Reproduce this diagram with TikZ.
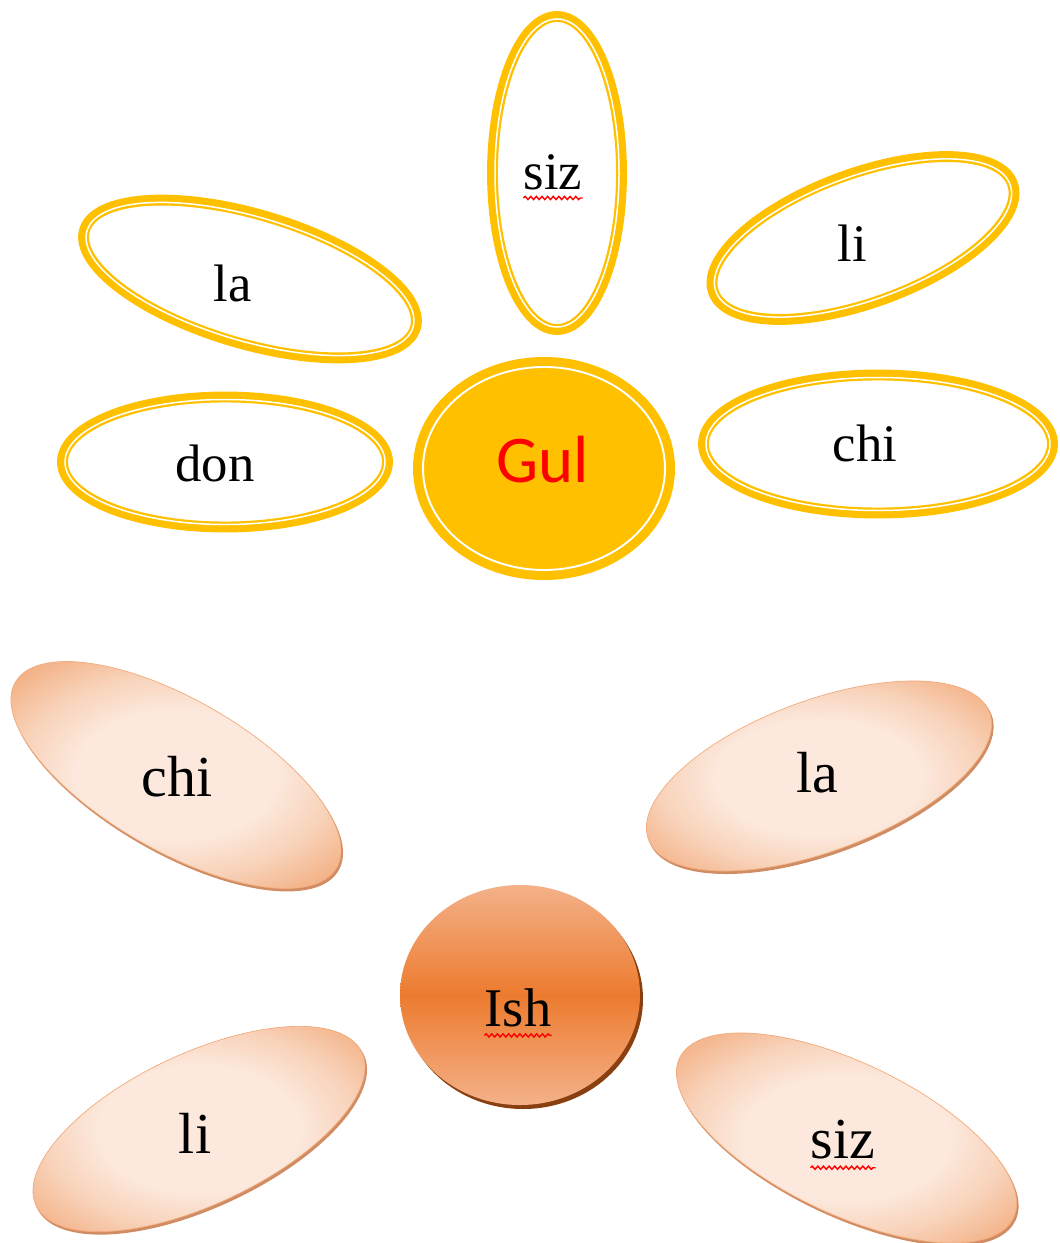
\documentclass[tikz,border=0pt]{standalone}
\usepackage{fontspec}
\setmainfont{Liberation Serif}
\newfontfamily\gulfont{Carlito}
\usetikzlibrary{decorations.pathmorphing}
\definecolor{gulyellow}{HTML}{FFC000}
\definecolor{peach}{HTML}{FCE8DC}
\definecolor{peachmid}{HTML}{F8D2B9}
\definecolor{peachdark}{HTML}{F2AB7C}
\definecolor{peachrim}{HTML}{D08C62}
\definecolor{ishorange}{HTML}{EC7B2F}
\definecolor{ishlight}{HTML}{F4B189}
\definecolor{ishrim}{HTML}{8A3F10}
\pgfdeclareradialshading{petalshade}{\pgfpoint{0bp}{0bp}}{color(0bp)=(peach); color(14bp)=(peach); color(22bp)=(peachmid); color(32bp)=(peachdark); color(50bp)=(peachdark)}
\begin{document}
\begin{tikzpicture}[x=0.02cm,y=-0.02cm,
  petal/.style={draw=gulyellow,line width=6.2pt},
  petalgap/.style={draw=white,line width=0.85pt},
  word/.style={inner sep=0pt,font=\fontsize{30}{36}\selectfont},
  bigword/.style={inner sep=0pt,font=\fontsize{33}{40}\selectfont},
  squiggle/.style={draw=red,line width=0.8pt,decorate,decoration={snake,amplitude=0.9pt,segment length=3.2pt}}]
  \useasboundingbox (0,0) rectangle (1059,1243);

  \foreach \cx/\cy/\ang/\rx/\ry in {557/173/0/70/162, 250/279/-16.5/178/70, 863/238/20/164.5/70, 225/462/0/168/70.5, 878/444/0/180/74.5}
  {
    \draw[petal, rotate around={\ang:(\cx,\cy)}] (\cx,\cy) ellipse [x radius=\rx-5.5, y radius=\ry-5.5];
    \draw[petalgap, rotate around={\ang:(\cx,\cy)}] (\cx,\cy) ellipse [x radius=\rx-8, y radius=\ry-8];
  }
  \fill[gulyellow] (544,468.5) ellipse [x radius=131, y radius=111.5];
  \draw[white, line width=1.1pt] (544,468.5) ellipse [x radius=121, y radius=101.5];

  \node[word] (topsiz) at (553,172) {siz};
  \node[word] (topla) at (233,283) {la};
  \node[word] (topli) at (852,243) {li};
  \node[word] (topdon) at (215,463) {don};
  \node[word] (topchi) at (865,443) {chi};
  \node[inner sep=0pt, text=red, font=\gulfont\fontsize{38}{46}\selectfont] (gul) at (543,460) {Gul};
  \draw[squiggle] ([yshift=-5pt]topsiz.base west) -- ([yshift=-5pt]topsiz.base east);

  \foreach \cx/\cy/\ang/\rx in {176/775/-30/187, 819/776/20.4/183.5, 199/1129/25.2/181.5, 846.5/1138/-25.6/186.6}
  {
    \fill[peachrim, rotate around={\ang:(\cx+1.5,\cy+2.5)}] (\cx+1.5,\cy+2.5) ellipse [x radius=\rx-1, y radius=76];
    \shade[shading=petalshade, draw=peachdark, line width=0.4pt, rotate around={\ang:(\cx,\cy)}] (\cx,\cy) ellipse [x radius=\rx-1.5, y radius=75.5];
  }
  \fill[ishrim] (523,999) ellipse [x radius=120, y radius=110];
  \shade[top color=ishlight, bottom color=ishlight, middle color=ishorange] (520,995) ellipse [x radius=120, y radius=110];

  \node[bigword] (botchi) at (177,777) {chi};
  \node[bigword] (botla) at (817,773) {la};
  \node[bigword] (botli) at (195,1133) {li};
  \node[bigword] (botsiz) at (843,1140) {siz};
  \node[inner sep=0pt, font=\fontsize{31}{37}\selectfont] (ish) at (518,1008) {Ish};
  \draw[squiggle] ([yshift=-5pt]botsiz.base west) -- ([yshift=-5pt]botsiz.base east);
  \draw[squiggle] ([yshift=-5pt]ish.base west) -- ([yshift=-5pt]ish.base east);
\end{tikzpicture}
\end{document}
